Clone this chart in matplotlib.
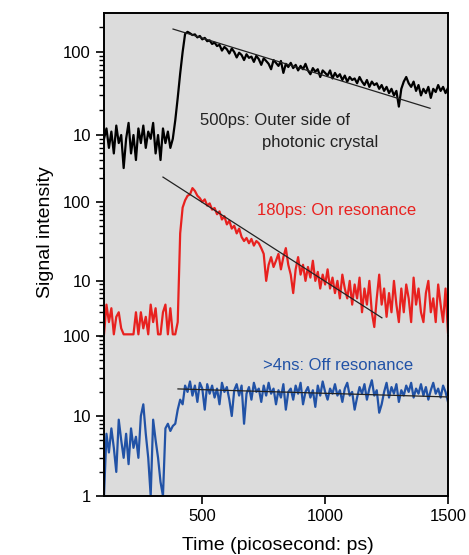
import numpy as np
import matplotlib
matplotlib.use('Agg')
import matplotlib.pyplot as plt
from matplotlib.ticker import LogLocator, FixedLocator, NullFormatter

plt.rcParams['font.family'] = ['Liberation Sans', 'DejaVu Sans']

# time axis, 10 ps steps
time_ps = np.arange(100, 1501, 10)

# outer side of photonic crystal (black), rows of 10 values: 100, 200, ... ps
black_vals = [
    9, 12, 7, 11, 6, 13, 8, 10, 4, 9,
    14, 6, 10, 5, 12, 8, 13, 7, 11, 9,
    14, 6, 10, 5, 12, 8, 11, 7, 9, 15,
    28, 55, 100, 165, 175, 168, 160, 163, 150, 156,
    142, 148, 135, 138, 125, 130, 118, 122, 104, 115,
    108, 96, 110, 100, 86, 98, 92, 80, 94, 85,
    88, 76, 90, 82, 70, 84, 78, 72, 62, 80,
    74, 68, 78, 56, 72, 66, 74, 64, 70, 60,
    68, 62, 72, 60, 54, 64, 58, 62, 50, 60,
    56, 52, 60, 48, 56, 50, 54, 46, 52, 44,
    50, 46, 48, 42, 50, 44, 40, 46, 38, 44,
    40, 42, 36, 40, 34, 38, 32, 36, 30, 34,
    22, 36, 44, 50, 42, 38, 44, 34, 40, 30,
    36, 32, 38, 28, 36, 33, 40, 34, 38, 32,
    37,
]

# on resonance (red)
red_vals = [
    2.1, 5, 3, 4.5, 2.1, 3.5, 4, 2.5, 2.1, 2.1,
    2.1, 2.1, 2.1, 4, 2.1, 4, 2.5, 3.5, 2.1, 5,
    3, 4.5, 2.1, 2.1, 4, 5, 2.1, 4.5, 2.1, 2.1,
    3, 40, 85, 105, 120, 125, 150, 138, 120, 112,
    100, 108, 90, 96, 80, 84, 70, 76, 60, 66,
    52, 58, 46, 50, 40, 46, 36, 32, 35, 30,
    34, 28, 32, 30, 26, 22, 10, 16, 20, 15,
    18, 22, 14, 20, 26, 16, 12, 7, 14, 20,
    12, 16, 10, 15, 11, 18, 10, 13, 8, 12,
    9, 14, 8, 11, 7, 10, 6, 12, 8, 6,
    10, 5, 9, 6, 11, 4, 8, 5, 10, 4,
    2.6, 6, 12, 5, 8, 3.5, 7, 4, 10, 5,
    3, 8, 4, 9, 6, 3, 11, 5, 8, 4,
    3, 7, 10, 4, 6, 3, 9, 5, 3, 8,
    2.2,
]

# off resonance (blue)
blue_vals = [
    1.0, 6, 3.5, 7, 4, 2, 9, 5, 3, 6,
    2.5, 7, 4, 5.5, 3, 10, 14, 6, 3, 1.0,
    9, 5, 3, 1.5, 1.0, 7, 8, 6.5, 7.5, 8,
    12, 16, 14, 24, 20, 27, 18, 24, 15, 26,
    22, 12, 25, 19, 24, 17, 22, 14, 26, 20,
    23, 16, 10, 21, 25, 18, 24, 8, 19, 23,
    16, 26, 20, 22, 15, 24, 18, 26, 19, 22,
    14, 21, 17, 25, 12, 20, 22, 16, 24, 19,
    26, 14, 20, 23, 17, 21, 13, 24, 18, 27,
    20, 16, 22, 19, 25, 18, 21, 15, 22, 26,
    18, 20, 12, 17, 23, 19, 25, 16, 22, 28,
    18, 21, 11, 14, 20, 26, 17, 23, 19, 25,
    15, 21, 18, 24, 20, 26, 17, 22, 19, 25,
    18, 23, 16, 21, 26, 19, 22, 17, 24, 20,
    15,
]

# fitted exponential lines (end points)
black_fit_x = [381, 1427]
black_fit_y = [189, 21]
red_fit_x = [340, 1231]
red_fit_y = [207, 3.4]
blue_fit_x = [401, 1500]
blue_fit_y = [21.8, 17.3]

red = '#e8211f'
blue = '#2152a6'
bg = '#dcdcdc'

W, H = 469, 555
fig = plt.figure(figsize=(W / 100, H / 100), dpi=100)


def px(x0, y0, x1, y1):
    return [x0 / W, 1 - y1 / H, (x1 - x0) / W, (y1 - y0) / H]


ax_top = fig.add_axes(px(104, 13, 448, 175))
ax_mid = fig.add_axes(px(104, 175, 448, 336))
ax_bot = fig.add_axes(px(104, 336, 448, 496))

panels = [
    (ax_top, black_vals, 'black', (3.3, 295), [10, 100], black_fit_x, black_fit_y),
    (ax_mid, red_vals, red, (2.0, 220), [10, 100], red_fit_x, red_fit_y),
    (ax_bot, blue_vals, blue, (1, 100), [1, 10, 100], blue_fit_x, blue_fit_y),
]

for ax, vals, col, ylim, yt, fx, fy in panels:
    ax.set_facecolor(bg)
    ax.plot(time_ps[:len(vals)], vals, color=col, lw=1.6, zorder=2)
    ax.plot(fx, fy, color='#222222', lw=0.9, zorder=3)
    ax.set_yscale('log')
    ax.set_xlim(100, 1500)
    ax.set_ylim(*ylim)
    ax.yaxis.set_major_locator(FixedLocator(yt))
    ax.set_yticklabels([str(v) for v in yt])
    ax.yaxis.set_minor_locator(LogLocator(base=10, subs=np.arange(2, 10)))
    ax.yaxis.set_minor_formatter(NullFormatter())
    ax.tick_params(axis='y', which='major', length=6, width=1.2, labelsize=12, direction='out')
    ax.tick_params(axis='y', which='minor', length=3.5, width=1.0, direction='out')
    for s in ax.spines.values():
        s.set_linewidth(1.4)

ax_top.spines['bottom'].set_visible(False)
ax_mid.spines['top'].set_visible(False)
ax_mid.spines['bottom'].set_visible(False)
ax_bot.spines['top'].set_visible(False)

for ax in (ax_top, ax_mid):
    ax.tick_params(axis='x', which='both', bottom=False, labelbottom=False)

ax_bot.set_xticks([500, 1000, 1500])
ax_bot.tick_params(axis='x', length=6, width=1.2, labelsize=12, direction='out')

fig.text(200 / W, 1 - 121 / H, '500ps: Outer side of', fontsize=12, color='#222222', va='center')
fig.text(262 / W, 1 - 142 / H, 'photonic crystal', fontsize=12, color='#222222', va='center')
fig.text(257 / W, 1 - 211 / H, '180ps: On resonance', fontsize=12, color=red, va='center')
fig.text(263 / W, 1 - 365 / H, '>4ns: Off resonance', fontsize=12, color=blue, va='center')

fig.text(46 / W, 1 - 232 / H, 'Signal intensity', fontsize=14, rotation=90, ha='center', va='center')
fig.text(278 / W, 1 - 545 / H, 'Time (picosecond: ps)', fontsize=14, ha='center', va='center')

fig.savefig('out.png', dpi=100)
